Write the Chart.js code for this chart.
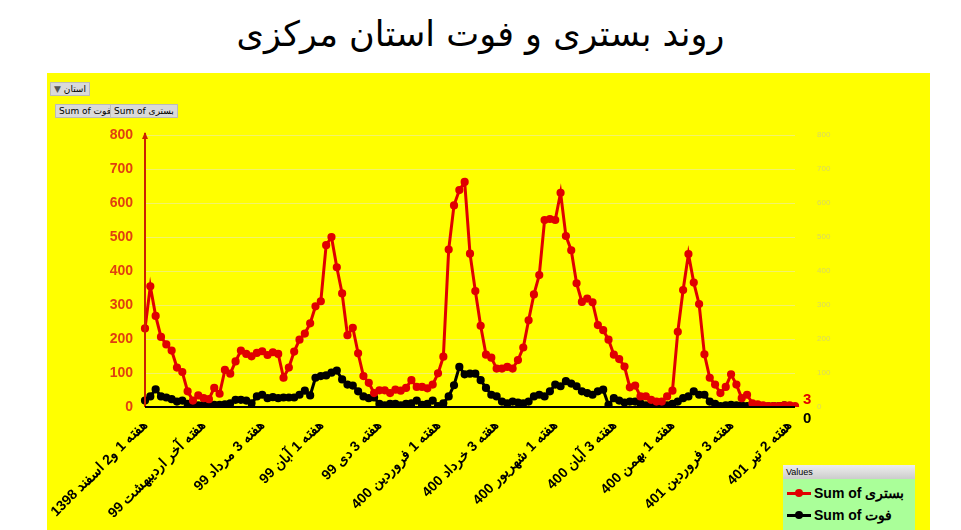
<!DOCTYPE html>
<html><head><meta charset="utf-8">
<script src="https://cdn.jsdelivr.net/npm/chart.js@4"></script>
<style>
body{margin:0;width:961px;height:530px;background:#fff;overflow:hidden;font-family:Arial,"Liberation Sans",sans-serif;position:relative}
#title{position:absolute;top:14px;left:0;width:961px;text-align:center;font-size:35px;font-family:"DejaVu Sans","Noto Sans",sans-serif;color:#000}
#box{position:absolute;left:47px;top:73px;width:883px;height:457px;background:#ffff00}
#box canvas{position:absolute;left:0;top:0}
.btn{position:absolute;background:#d9d9d9;border:1px solid #bbb;font-size:9px;font-family:Tahoma,"DejaVu Sans",sans-serif;padding:1px 3px;color:#000;white-space:nowrap}
#legend{position:absolute;left:783px;top:465px;width:132px;height:65px;background:#aaff99;font-family:Arial,sans-serif}
#legend .h{background:linear-gradient(#eee,#ccc);font-size:9px;padding:2px 3px}
#legend .r{font-size:14px;font-weight:bold;margin:6px 0 0 4px;display:flex;align-items:center}
#legend .r span.m{display:inline-block;width:24px;height:3px;position:relative;margin-right:3px}
#legend .r span.m i{position:absolute;left:8px;top:-3px;width:8px;height:8px;border-radius:50%}
</style></head><body>
<div id="title">روند بستری و فوت استان مرکزی</div>
<div id="box"><canvas id="c" width="883" height="457"></canvas>
<div class="btn" style="left:3px;top:9px"><span style="color:#555">&#9660;</span> <span dir="rtl">استان</span></div>
<div class="btn" style="left:8px;top:31px">Sum of <span dir="rtl">فوت</span></div>
<div class="btn" style="left:63px;top:31px">Sum of <span dir="rtl">بستری</span></div>
</div>
<div id="legend"><div class="h">Values</div>
<div class="r"><span class="m" style="background:#e00000"><i style="background:#e00000"></i></span>Sum of&nbsp;<span dir="rtl">بستری</span></div>
<div class="r"><span class="m" style="background:#000"><i style="background:#000"></i></span>Sum of&nbsp;<span dir="rtl">فوت</span></div>
</div>
<script>
const tickLabels=["هفته 1 و2 اسفند 1398","هفته آخر اردیبهشت 99","هفته 3 مرداد 99","هفته 1 آبان 99","هفته 3 دی 99","هفته 1 فروردین 400","هفته 3 خرداد 400","هفته 1 شهریور 400","هفته 3 آبان 400","هفته 1 بهمن 400","هفته 3 فروردین 401","هفته 2 تیر 401"];
const tickIndices=[0,11,22,33,44,55,66,77,88,99,110,121];
const hosp=[231,355,268,206,184,166,116,103,46,19,34,26,23,56,39,109,98,134,166,156,149,159,164,153,161,156,86,116,163,198,216,246,296,311,476,500,411,334,211,233,158,91,71,41,49,49,41,51,48,56,79,59,59,55,66,99,148,463,593,638,662,451,
341,239,154,145,113,113,118,113,138,175,255,331,388,550,553,550,630,503,461,364,309,319,308,241,226,198,154,141,119,58,63,31,31,21,16,16,31,48,221,344,450,366,303,155,86,66,41,59,96,66,26,36,11,8,5,3,3,3,5,5,3];
const death=[19,31,52,31,28,23,16,19,9,6,5,6,3,6,6,8,11,21,21,19,11,31,36,26,29,26,28,28,28,36,48,34,86,91,93,101,107,81,66,63,46,31,26,28,9,5,9,9,5,9,11,19,6,9,19,3,11,31,64,118,96,98,
98,79,56,36,31,16,11,16,13,11,16,31,36,31,46,66,61,76,69,61,46,41,36,46,51,6,26,19,13,16,16,11,5,3,3,1,5,9,16,26,31,46,36,36,16,9,3,5,6,5,5,3,3,3,3,2,3,3,5,3,0];
const n=Math.max(hosp.length,death.length);
const labels=Array.from({length:n},(_,i)=>{const k=tickIndices.indexOf(i);return k>=0?tickLabels[k]:"";});
const endLabels={id:'endLabels',afterDatasetsDraw(ch){const c=ch.ctx,y=ch.scales.y,x=ch.scales.x;c.save();
c.font='bold 15px Arial';c.fillStyle='#e00000';c.fillText(String(hosp[hosp.length-1]),x.right+8,y.getPixelForValue(hosp[hosp.length-1])-2);
c.fillStyle='#000';c.fillText(String(death[death.length-1]),x.right+8,y.getPixelForValue(0)+16);
c.strokeStyle='#cc2200';c.lineWidth=2;c.beginPath();c.moveTo(x.left,y.bottom);c.lineTo(x.left,y.top-2);c.stroke();
c.fillStyle='#cc2200';c.beginPath();c.moveTo(x.left-3,y.top+4);c.lineTo(x.left+3,y.top+4);c.lineTo(x.left,y.top-3);c.fill();
c.strokeStyle='#000';c.lineWidth=2;c.beginPath();c.moveTo(x.left,y.bottom);c.lineTo(x.right,y.bottom);c.stroke();c.restore();}};
new Chart(document.getElementById('c'),{type:'line',data:{labels,datasets:[
{data:hosp,borderColor:'#e00000',backgroundColor:'#e00000',borderWidth:3,pointRadius:2.6,pointBackgroundColor:'#e00000',tension:0,yAxisID:'y'},
{data:death,borderColor:'#000',backgroundColor:'#000',borderWidth:3,pointRadius:2.6,pointBackgroundColor:'#000',tension:0,yAxisID:'y'}]},
options:{responsive:false,animation:false,plugins:{legend:{display:false},tooltip:{enabled:false}},
layout:{padding:{top:62,right:0,bottom:0,left:0}},
scales:{x:{grid:{display:false},border:{display:false},offset:false,
ticks:{autoSkip:false,maxRotation:45,minRotation:45,color:'#000',font:{size:14,weight:'bold',family:'Arial'},padding:2},afterFit(s){s.height=123;}},
y:{min:0,max:800,position:'left',afterFit(s){s.width=98;},grid:{color:'#f2f26a',drawTicks:false},border:{display:false},
ticks:{stepSize:100,color:'#e0400f',font:{size:14,weight:'bold'},padding:12}},
y2:{min:0,max:800,position:'right',afterFit(s){s.width=135;},grid:{display:false},border:{display:false},
ticks:{stepSize:100,color:'#d8d860',font:{size:8},padding:14}}}},plugins:[endLabels]});
</script></body></html>
